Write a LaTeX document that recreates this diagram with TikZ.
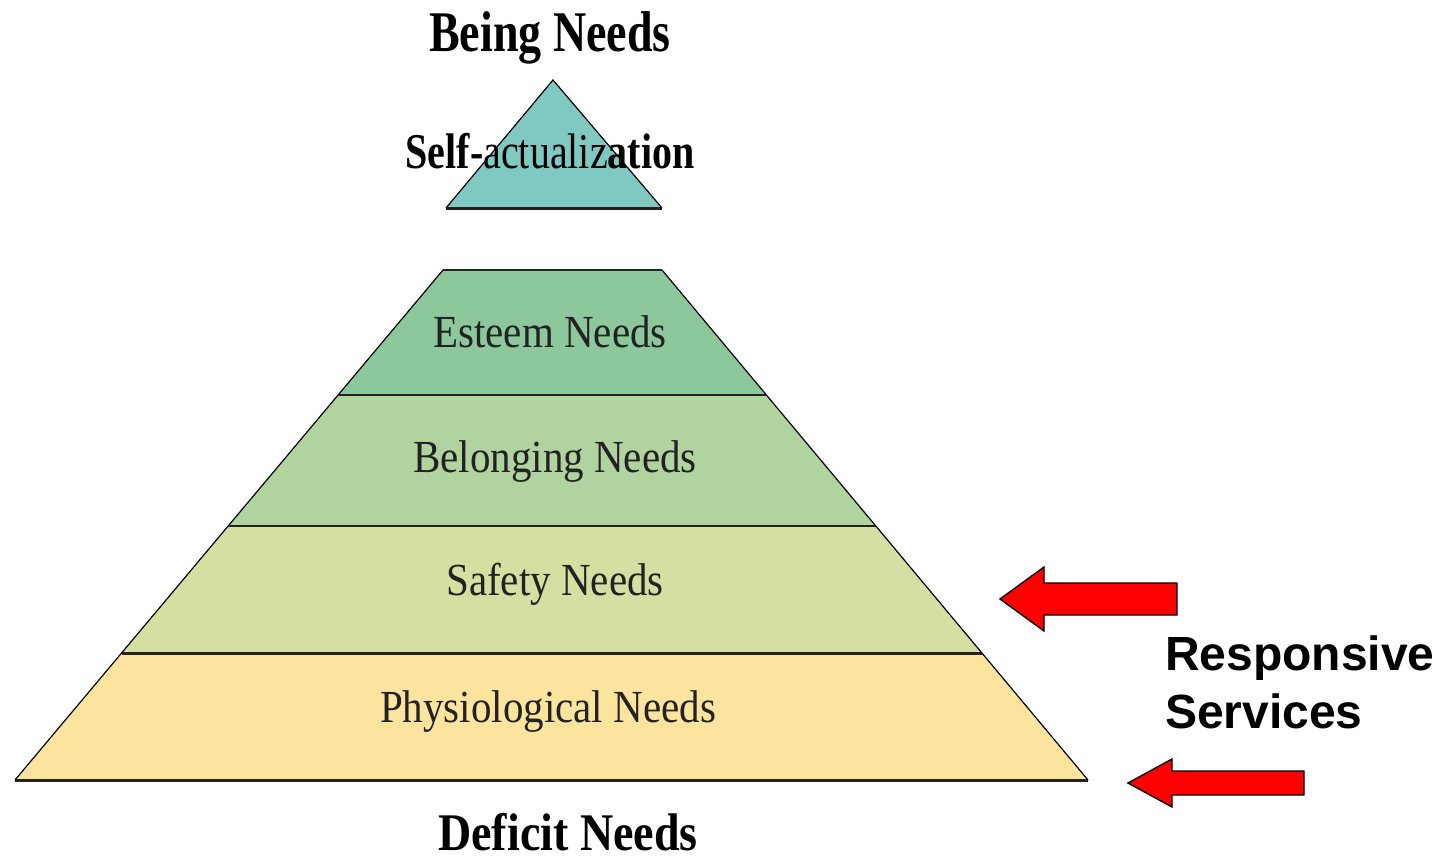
\documentclass[tikz,border=0pt]{standalone}
\usepackage{fontspec}
\setmainfont{Liberation Serif}
\newfontfamily\arialfont{Liberation Sans}
\definecolor{selfcol}{HTML}{80C8C2}
\definecolor{esteemcol}{HTML}{8DC89C}
\definecolor{belongcol}{HTML}{B1D3A0}
\definecolor{safetycol}{HTML}{D5DFA1}
\definecolor{physcol}{HTML}{FDE49E}
\definecolor{arrowred}{HTML}{FF0000}
\definecolor{edgecol}{HTML}{222222}
\begin{document}
\begin{tikzpicture}[x=1pt,y=-1pt,
  band/.style={draw=none},
  sideline/.style={draw=black,line width=1.2pt},
  baseline/.style={draw=edgecol,line width=3pt},
  bandlabel/.style={anchor=base,inner sep=0pt,text=edgecol,font=\fontsize{41}{41}\selectfont},
  heavylabel/.style={anchor=base,inner sep=0pt,text=black,font=\fontsize{46}{46}\selectfont\bfseries},
  redarrow/.style={fill=arrowred,draw=black,line width=1.4pt,line join=miter},
  sidelabel/.style={anchor=base west,inner sep=0pt,font=\arialfont\fontsize{48}{48}\selectfont\bfseries}]
\useasboundingbox (0,0) rectangle (1456,864);
% top triangle
\fill[selfcol] (553,80) -- (446,208) -- (662,208) -- cycle;
\draw[sideline] (446,208) -- (553,80) -- (662,208);
\draw[baseline] (446,208) -- (662,208);
% bands of the pyramid
\fill[esteemcol] (443,270) -- (662,270) -- (766.4,395) -- (338.1,395) -- cycle;
\fill[belongcol] (338.1,395) -- (766.4,395) -- (875.8,526) -- (228.2,526) -- cycle;
\fill[safetycol] (228.2,526) -- (875.8,526) -- (981.9,653) -- (121.6,653) -- cycle;
\fill[physcol] (121.6,653) -- (981.9,653) -- (1088,780) -- (15,780) -- cycle;
\draw[draw=edgecol,line width=1.8pt] (443,270) -- (662,270);
\draw[draw=edgecol,line width=1.8pt] (338.1,395) -- (766.4,395);
\draw[draw=edgecol,line width=2pt] (228.2,526) -- (875.8,526);
\draw[baseline] (121.6,653) -- (981.9,653);
\draw[baseline] (15,780) -- (1088,780);
\draw[sideline] (15,780) -- (443,270);
\draw[sideline] (662,270) -- (1088,780);
% labels
\node[heavylabel] (being) at (550,52) {\scalebox{1}[1.25]{Being Needs}};
\node[anchor=base,inner sep=0pt,font=\fontsize{40}{40}\selectfont] (self) at (550,168)
  {\scalebox{1}[1.25]{\textbf{Self-}actualiz\textbf{ation}}};
\node[bandlabel] (esteem) at (550,347) {\scalebox{1}[1.12]{Esteem Needs}};
\node[bandlabel] (belong) at (555,472) {\scalebox{1}[1.12]{Belonging Needs}};
\node[bandlabel] (safety) at (555,595) {\scalebox{1}[1.12]{Safety Needs}};
\node[bandlabel] (phys) at (548,722) {\scalebox{1}[1.12]{Physiological Needs}};
\node[heavylabel] (deficit) at (568,850) {\scalebox{1}[1.15]{Deficit Needs}};
% arrows
\draw[redarrow] (1000,599) -- (1044,567) -- (1044,583) -- (1177,583) -- (1177,615) -- (1044,615) -- (1044,631) -- cycle;
\draw[redarrow] (1128,783) -- (1172,759) -- (1172,771) -- (1304,771) -- (1304,795) -- (1172,795) -- (1172,807) -- cycle;
\node[sidelabel] (resp) at (1165,670) {Responsive};
\node[sidelabel] (serv) at (1165,728) {Services};
\end{tikzpicture}
\end{document}
